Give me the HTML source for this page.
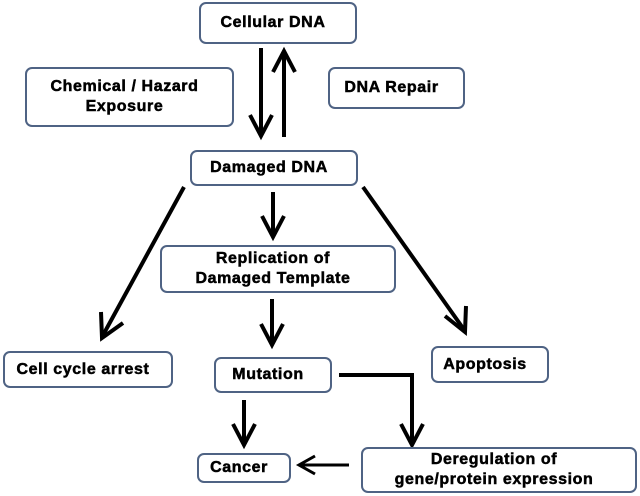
<!DOCTYPE html>
<html><head><meta charset="utf-8"><style>
html,body{margin:0;padding:0;background:#fff;}
body{width:640px;height:496px;position:relative;overflow:hidden;font-family:"Liberation Sans",Arial,sans-serif;}
.b{position:absolute;box-sizing:border-box;border:2px solid #4f6384;border-radius:7px;background:#fff;display:flex;align-items:center;justify-content:center;text-align:center;font-weight:bold;font-size:16px;line-height:20px;color:#000;letter-spacing:0.6px;-webkit-text-stroke:0.5px #000;padding-right:10px;}
svg{position:absolute;left:0;top:0;}
</style></head><body>
<svg width="640" height="496" viewBox="0 0 640 496">
<g stroke="#000" stroke-width="4" fill="none" stroke-linecap="butt">
<line x1="261" y1="48" x2="261" y2="135"/><polyline points="250,115 261,136 272,115"/>
<line x1="284" y1="137" x2="284" y2="52"/><polyline points="273,72 284,51 295,72"/>
<line x1="273" y1="192" x2="273" y2="236"/><polyline points="262,216 273,237 284,216"/>
<line x1="184" y1="187" x2="102" y2="337"/><polyline points="101,312 102,338 123,323"/>
<line x1="363" y1="187" x2="465" y2="331"/><polyline points="445,316 465,332 466,306"/>
<line x1="272" y1="299" x2="272" y2="344"/><polyline points="261,324 272,345 283,324"/>
<line x1="244" y1="400" x2="244" y2="444"/><polyline points="233,424 244,445 255,424"/>
<polyline points="339,375 412,375 412,444"/><polyline points="401,424 412,445 423,424"/>
<line x1="349" y1="465" x2="300" y2="465" stroke-width="3"/><polyline points="315,456 299,465 315,474" stroke-width="3"/>
</g></svg>
<div class="b" style="left:199px;top:2px;width:158px;height:42px;">Cellular DNA</div>
<div class="b" style="left:25px;top:67px;width:209px;height:60px;">Chemical / Hazard<br>Exposure</div>
<div class="b" style="left:328px;top:67px;width:137px;height:42px;">DNA Repair</div>
<div class="b" style="left:190px;top:150px;width:168px;height:36px;">Damaged DNA</div>
<div class="b" style="left:160px;top:245px;width:236px;height:48px;">Replication of<br>Damaged Template</div>
<div class="b" style="left:3px;top:351px;width:170px;height:37px;">Cell cycle arrest</div>
<div class="b" style="left:214px;top:357px;width:118px;height:36px;">Mutation</div>
<div class="b" style="left:431px;top:346px;width:118px;height:37px;">Apoptosis</div>
<div class="b" style="left:197px;top:453px;width:94px;height:30px;">Cancer</div>
<div class="b" style="left:361px;top:447px;width:276px;height:46px;">Deregulation of<br>gene/protein expression</div>
</body></html>
